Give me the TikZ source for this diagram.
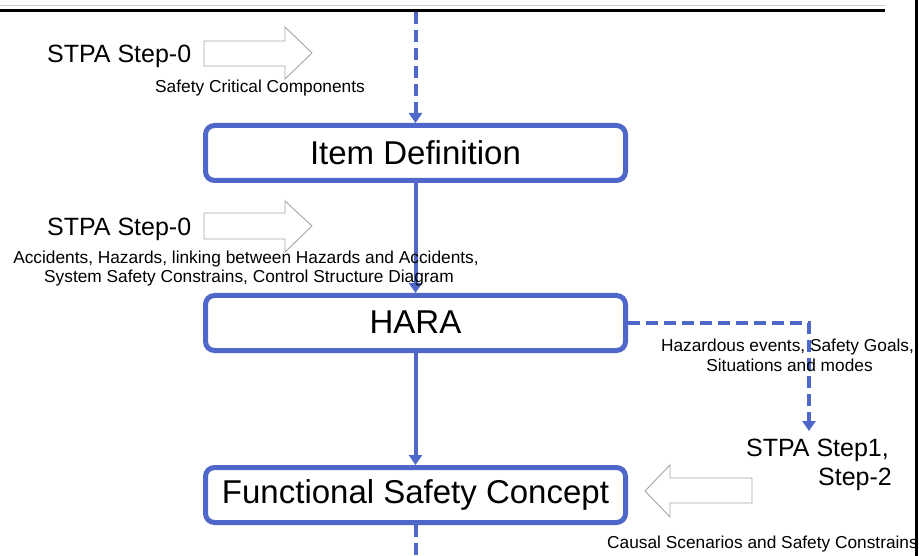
\documentclass[tikz,border=0pt]{standalone}
\usepackage{fontspec}
\setmainfont{Liberation Sans}
\usetikzlibrary{arrows.meta}
\definecolor{flowblue}{RGB}{79,103,200}
\definecolor{arrowgray}{RGB}{165,165,165}
\tikzset{
  stagebox/.style={draw=flowblue, line width=5pt, rounded corners=9pt, fill=white,
    minimum width=420pt, minimum height=55pt, inner sep=0pt,
    font=\fontsize{33}{36}\selectfont},
  flowline/.style={draw=flowblue, line width=4pt},
  flowdash/.style={flowline, dash pattern=on 12pt off 6pt},
  tip/.style={-{Triangle[length=10pt,width=13pt]}},
  fatarrow/.style={draw=arrowgray, line width=0.9pt, fill=white},
  steplabel/.style={inner sep=0pt, font=\fontsize{25}{28}\selectfont},
  note/.style={inner sep=0pt, font=\fontsize{17.3}{20}\selectfont},
}
\begin{document}
\begin{tikzpicture}[x=1pt, y=-1pt]
\useasboundingbox[fill=white] (0,0) rectangle (919,556);

% header rules and right frame edge
\draw[color=black!20, line width=1pt] (0,6) -- (885,6);
\draw[line width=3.5pt] (0,10.5) -- (885,10.5);
\draw[line width=3pt] (916,0) -- (916,556);

% process stages
\node[stagebox] (item) at (415.5,153) {\raisebox{1.5pt}{Item Definition}};
\node[stagebox] (hara) at (415.5,323) {\raisebox{2pt}{HARA}};
\node[stagebox] (fsc)  at (415.5,495) {Functional Safety Concept};

\coordinate (topin) at (415.5,12.5);
\coordinate (botout) at (415.5,556);
\coordinate (bend) at (809,323);
\coordinate (stepin) at (809,431);

% connectors
\draw[flowdash, tip] (topin) -- (item.north);
\draw[flowline, tip] (item.south) -- (hara.north);
\draw[flowline, tip] (hara.south) -- (fsc.north);
\draw[flowdash] (fsc.south) -- (botout);
\draw[flowdash, tip] (hara.east) -- (bend) -- (stepin);

% block arrows
\draw[fatarrow] (204,41) -- (285,41) -- (285,27) -- (312,53) -- (285,79) -- (285,66) -- (204,66) -- cycle;
\draw[fatarrow] (204,213) -- (285,213) -- (285,201) -- (312,226) -- (285,252) -- (285,239) -- (204,239) -- cycle;
\draw[fatarrow] (752,478) -- (670,478) -- (670,465) -- (645,491) -- (670,517) -- (670,503) -- (752,503) -- cycle;

% labels
\node[steplabel, anchor=base west] (s0a) at (47,63) {STPA Step-0};
\node[note, anchor=base west] (scc) at (155,93) {Safety Critical Components};

\node[steplabel, anchor=base west] (s0b) at (47,236) {STPA Step-0};
\node[note, anchor=base] (acc1) at (246,264) {Accidents, Hazards, linking between Hazards and Accidents,};
\node[note, anchor=base] (acc2) at (249,283) {System Safety Constrains, Control Structure Diagram};

\node[note, anchor=base] (hz1) at (787.5,351) {Hazardous events, Safety Goals,};
\node[note, anchor=base] (hz2) at (789.5,371) {Situations and modes};

\node[steplabel, anchor=base east] (s12a) at (889,456) {STPA Step1,};
\node[steplabel, anchor=base east] (s12b) at (892,485) {Step-2};

\node[note, anchor=base west] (cs) at (607,548) {Causal Scenarios and Safety Constrains};
\end{tikzpicture}
\end{document}
